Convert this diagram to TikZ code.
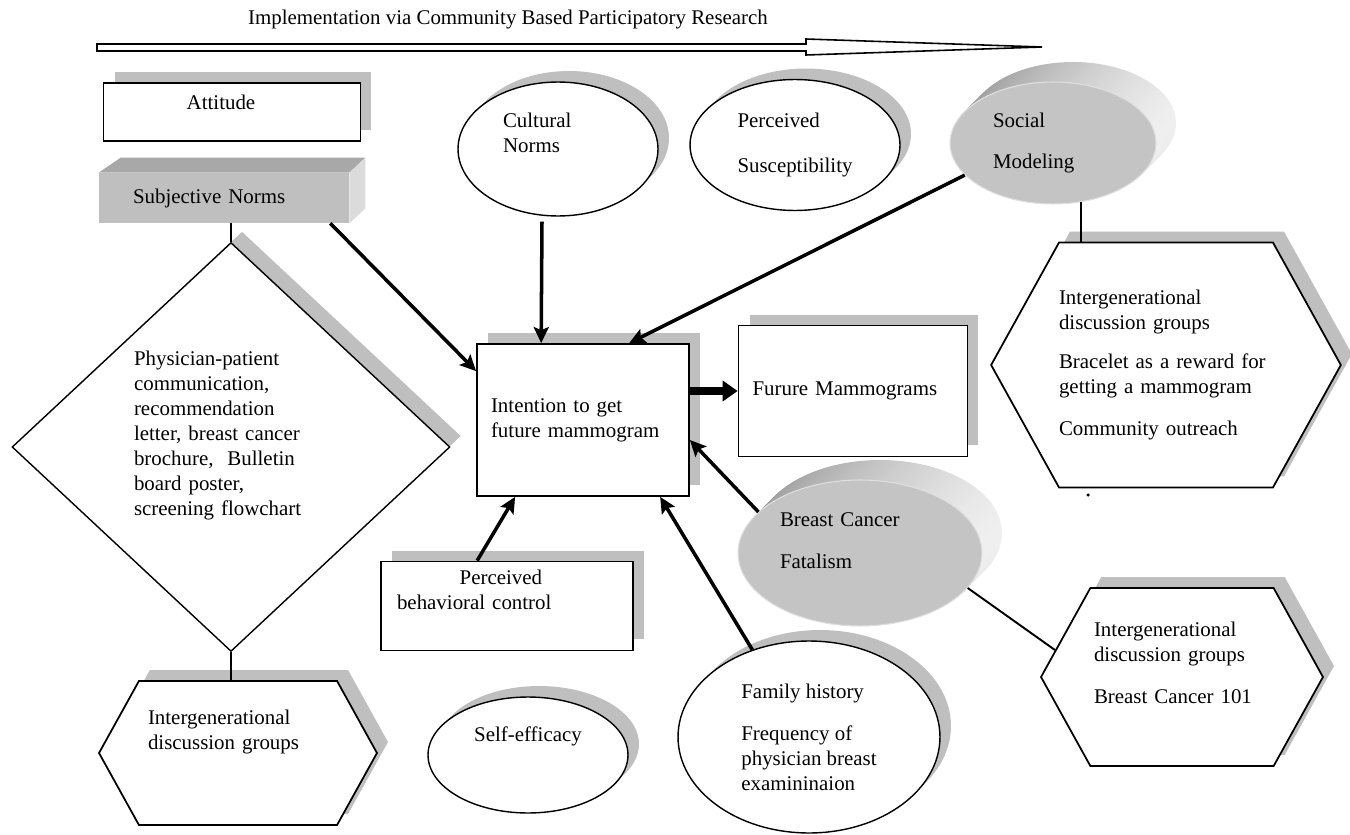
\documentclass[tikz,border=0pt]{standalone}
\usepackage{fontspec}
\setmainfont{Liberation Serif}
\usetikzlibrary{shapes.geometric,shapes.symbols,shadows,arrows.meta,calc}
\definecolor{shadowgray}{gray}{0.75}
\definecolor{discgray}{gray}{0.77}
\definecolor{frontgray}{gray}{0.75}
\definecolor{topgray}{gray}{0.66}
\definecolor{sidegray}{gray}{0.86}
\tikzset{
  txt/.style={inner sep=0pt, font=\fontsize{11.9}{14.2}\selectfont},
  shad/.style={drop shadow={shadow xshift=0.22cm, shadow yshift=0.22cm, fill=shadowgray, opacity=1}},
  box/.style={txt, shad, rectangle, draw, fill=white, line width=1pt, align=left},
  oval/.style={txt, shad, ellipse, draw, fill=white, line width=0.8pt, align=left},
  hexa/.style={txt, shad, signal, signal to=east and west, signal pointer angle=122, draw, fill=white, line width=1pt, align=left},
  disc/.style={txt, ellipse, fill=discgray, draw=gray!25, line width=0.6pt, align=left},
  pointer/.style={line width=2pt, -{Stealth[length=0.32cm,width=0.3cm,inset=0.06cm]}},
  link/.style={line width=1.1pt}
}
\begin{document}
\begin{tikzpicture}[x=0.02cm, y=-0.02cm]
\useasboundingbox (0,0) rectangle (1350,835);

\node[txt] (title) at (508,20) {Implementation via Community Based Participatory Research};
\draw[line width=0.9pt, fill=white] (97,44) -- (806,44) -- (806,39) -- (1042,47) -- (806,55) -- (806,51) -- (97,51) -- cycle;

\node[box, minimum width=5.14cm, minimum height=1.16cm, text depth=0.41cm] (att) at (232,112) {Attitude\hspace*{0.44cm}};

\node[txt, fill=frontgray, minimum width=5cm, minimum height=1cm, text width=3.64cm, align=left] (subj) at (224,198) {Subjective Norms};
\fill[topgray] (subj.north west) -- ++(22,-15) -- ($(subj.north east)+(16,-15)$) -- (subj.north east) -- cycle;
\fill[sidegray] (subj.north east) -- ++(16,-15) -- ($(subj.south east)+(16,-15)$) -- (subj.south east) -- cycle;

\node[txt, shad, diamond, draw, fill=white, line width=0.8pt, minimum width=8.76cm, minimum height=8.18cm, text width=3.88cm, align=left] (comm) at (231,447) {Physician-patient\\communication,\\recommendation\\letter, breast cancer\\brochure,~~Bulletin\\board poster,\\screening flowchart\\[-0.1cm]\strut};

\node[hexa, minimum width=5.56cm, minimum height=2.88cm, text width=3.6cm] (hexbl) at (238,753) {Intergenerational\\discussion groups\\[0.3cm]\strut};

\node[oval, minimum width=4cm, minimum height=2.68cm, text width=2.2cm] (cultural) at (558,149) {Cultural\\Norms\\\strut};
\node[oval, minimum width=4.2cm, minimum height=2.62cm] (percsus) at (795,145) {Perceived\\[0.42cm]Susceptibility};

\foreach \k in {20,...,1}
  \shade[left color=gray!80, right color=gray!12] ($(1053,143)+(\k,-\k)$) ellipse [x radius=2.06cm, y radius=1.22cm];
\node[disc, minimum width=4.12cm, minimum height=2.44cm, text width=2.4cm] (social) at (1053,143) {Social\\[0.34cm]Modeling};

\node[hexa, minimum width=6.94cm, minimum height=4.9cm, text width=4.28cm] (hexr) at (1166,365) {Intergenerational\\discussion groups\\[0.28cm]Bracelet as a reward for\\getting a mammogram\\[0.34cm]Community outreach};
\fill (1088,495) circle [radius=0.035cm];

\node[box, minimum width=4.24cm, minimum height=3.04cm, text width=3.68cm] (intent) at (583,420) {Intention to get\\future mammogram};
\node[box, minimum width=4.58cm, minimum height=2.62cm, text width=4.02cm] (furure) at (853,391) {Furure Mammograms};
\node[box, minimum width=5.04cm, minimum height=1.78cm, text width=4.4cm] (pbc) at (507,606) {\hspace*{3em}Perceived\\behavioral control\\\strut};

\foreach \k in {20,...,1}
  \shade[left color=gray!80, right color=gray!12] ($(860,553)+(\k,-\k)$) ellipse [x radius=2.44cm, y radius=1.46cm];
\node[disc, minimum width=4.88cm, minimum height=2.92cm, text width=3.2cm] (fatal) at (860,553) {Breast Cancer\\[0.34cm]Fatalism\\[-0.14cm]\strut};

\node[hexa, minimum width=5.64cm, minimum height=3.56cm, text width=3.52cm] (hexbr) at (1182,677) {Intergenerational\\discussion groups\\[0.36cm]Breast Cancer 101\\[-0.08cm]\strut};

\node[oval, minimum width=4cm, minimum height=2.32cm, text depth=0.84cm] (selfeff) at (528,755) {Self-efficacy};
\node[oval, minimum width=5.24cm, minimum height=3.84cm] (family) at (809,737) {Family history\\[0.34cm]Frequency of\\physician breast\\examininaion};

\draw[pointer] ($(subj.south east)+(-19,0)$) -- ($(intent.north west)+(0,28)$);
\draw[pointer] ($(cultural.south)+(-16,5)$) -- ($(intent.north west)+(65,0)$);
\draw[pointer] (social.200) -- ($(intent.north west)+(153,0)$);
\draw[pointer] (fatal.158) -- ($(intent.east)+(0,20)$);
\draw[pointer] ($(pbc.north west)+(97,0)$) -- ($(intent.south west)+(39,0)$);
\draw[pointer] (family.123) -- ($(intent.south west)+(184,0)$);
\draw[line width=4.5pt, -{Triangle[length=0.3cm,width=0.4cm]}] (intent.east |- furure.west) -- (furure.west);

\draw[link] (comm.north |- subj.south) -- (comm.north);
\draw[link] (comm.south) -- (comm.south |- hexbl.north);
\draw[link] (social.-65) -- (social.-65 |- hexr.north);
\draw[link] (fatal.-18) -- (hexbr.168);
\end{tikzpicture}
\end{document}
